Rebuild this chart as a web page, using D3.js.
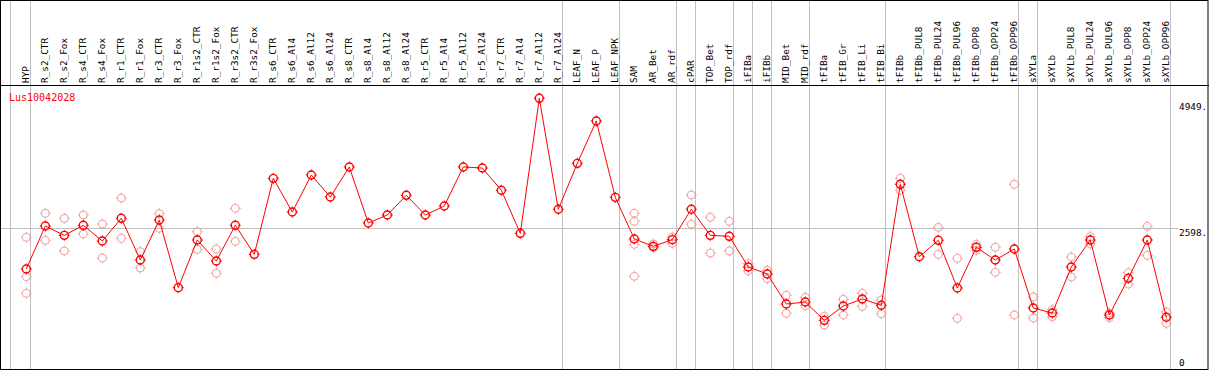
<!DOCTYPE html>
<html><head><meta charset="utf-8">
<script src="https://cdn.jsdelivr.net/npm/d3@7"></script>
<style>html,body{margin:0;padding:0;background:#fff;overflow:hidden}</style>
</head><body>
<svg id="chart" width="1209" height="370"></svg>
<script>
const geneId = "Lus10042028";
const categories = ["HYP","R_s2_CTR","R_s2_Fox","R_s4_CTR","R_s4_Fox","R_r1_CTR","R_r1_Fox","R_r3_CTR","R_r3_Fox","R_r1s2_CTR","R_r1s2_Fox","R_r3s2_CTR","R_r3s2_Fox","R_s6_CTR","R_s6_Al4","R_s6_Al12","R_s6_Al24","R_s8_CTR","R_s8_Al4","R_s8_Al12","R_s8_Al24","R_r5_CTR","R_r5_Al4","R_r5_Al12","R_r5_Al24","R_r7_CTR","R_r7_Al4","R_r7_Al12","R_r7_Al24","LEAF_N","LEAF_P","LEAF_NPK","SAM","AR_Bet","AR_rdf","cPAR","TOP_Bet","TOP_rdf","iFIBa","iFIBb","MID_Bet","MID_rdf","tFIBa","tFIB_Gr","tFIB_Li","tFIB_Bi","tFIBb","tFIBb_PUL8","tFIBb_PUL24","tFIBb_PUL96","tFIBb_OPP8","tFIBb_OPP24","tFIBb_OPP96","sXYLa","sXYLb","sXYLb_PUL8","sXYLb_PUL24","sXYLb_PUL96","sXYLb_OPP8","sXYLb_OPP24","sXYLb_OPP96"];
const meanValues = [1836,2641,2466,2654,2360,2785,2004,2753,1486,2379,1985,2654,2110,3534,2903,3596,3184,3747,2697,2847,3216,2847,3016,3747,3727,3310,2504,5033,2954,3815,4608,3178,2398,2260,2385,2954,2466,2448,1873,1742,1180,1217,874,1143,1274,1156,3422,2066,2373,1480,2242,2004,2210,1105,1011,1873,2379,974,1661,2379,931];
const replicateValues = [[2429,1691,1380],[2879,2373],[2785,2173],[2847,2491],[2679,2042],[3166,2410],[2160,1854],[2872,2598],[],[2535,2204],[2210,1755],[2972,2354],[],
[],[],[],[],[],[],[],[],[],[],[],[],[],[],[],[],[],[],[],
[2879,2729,2298,1699],[2304,2235],[2435,2317],[3222,2673],[2804,2135],[2729,2173],[1935,1804],[1811,1654],[1343,1006],[1305,1149],[949,787],[1268,974],[1380,1137],[1255,999],[3534,3310],[],[2616,2110],[2036,912],[2298,2185],[2242,1773],[3422,974],[1311,918],[1073,942],[2060,1686],[2441,2304],[1011,924],[1767,1555],[2635,2091],[1030,818]];
const groupStarts = ["HYP","R_s2_CTR","LEAF_N","SAM","cPAR","TOP_Bet","iFIBa","iFIBb","MID_Bet","tFIBa","tFIBb","sXYLa","sXYLb"];
const tickValues = [0, 2598, 4949];
const tickLabels = ["0", "2598.", "4949."];
const gridValues = [2598];

const W = 1209, H = 370;
const mono = "'DejaVu Sans Mono', monospace";
const svg = d3.select("#chart");
const x = d3.scaleBand().domain(categories).range([11.5, 1170.5]).padding(0);
const px = c => x(c) + 14.8;
const y = d3.scaleLinear().domain([0, 5196]).range([367, 89.6]);
const grey = "#c0c0c0";

// vertical group separators
svg.append("line").attr("x1", 10.5).attr("x2", 10.5).attr("y1", 0).attr("y2", H).attr("stroke", grey);
const seps = groupStarts.slice(1).map(g => x(g)).concat([x.range()[1]]);
svg.selectAll("line.sep").data(seps).enter().append("line").attr("class","sep")
  .attr("x1", d => d).attr("x2", d => d).attr("y1", 0).attr("y2", H).attr("stroke", grey);

// horizontal grid
svg.selectAll("line.grid").data(gridValues).enter().append("line").attr("class","grid")
  .attr("x1", 1).attr("x2", 1178).attr("y1", d => Math.round(y(d)) + 0.5).attr("y2", d => Math.round(y(d)) + 0.5)
  .attr("stroke", grey);

// header separator and frame
svg.append("line").attr("x1", 0).attr("x2", W).attr("y1", 85.5).attr("y2", 85.5).attr("stroke", "#000");
svg.append("rect").attr("x", 0.5).attr("y", 0.5).attr("width", W - 1.5).attr("height", 369)
  .attr("fill", "none").attr("stroke", "#000");

// category labels
svg.selectAll("text.cat").data(categories).enter().append("text").attr("class","cat")
  .attr("transform", d => `translate(${px(d) + 2.5},83) rotate(-90)`)
  .attr("font-family", mono).attr("font-size", "9.4px").attr("fill", "#000")
  .text(d => d);

// title
svg.append("text").attr("x", 9).attr("y", 100.5).attr("font-family", mono).attr("font-size", "10px")
  .attr("fill", "#ff0000").text(geneId);

// tick labels
svg.selectAll("text.tick").data(tickValues).enter().append("text").attr("class","tick")
  .attr("x", 1179).attr("y", d => Math.min(y(d) + 7.7, 366))
  .attr("font-family", mono).attr("font-size", "9.4px").attr("fill", "#000")
  .text((d, i) => tickLabels[i]);

function marker(sel, color, sw) {
  const r = 4;
  sel.append("circle").attr("r", r).attr("fill", "none").attr("stroke", color).attr("stroke-width", sw);
  [[0,-1],[0,1],[-1,0],[1,0]].forEach(([dx, dy]) => {
    sel.append("line").attr("x1", dx * (r - 0.5)).attr("y1", dy * (r - 0.5))
      .attr("x2", dx * (r + 1.5)).attr("y2", dy * (r + 1.5))
      .attr("stroke", color).attr("stroke-width", 1);
  });
}

// replicates
const reps = [];
categories.forEach((c, i) => replicateValues[i].forEach(v => reps.push({c, v})));
svg.selectAll("g.rep").data(reps).enter().append("g").attr("class","rep")
  .attr("transform", d => `translate(${px(d.c)},${y(d.v)})`)
  .each(function() { marker(d3.select(this), "#f0a0a0", 1); });

// mean line
const line = d3.line().x((d, i) => px(categories[i])).y(d => y(d));
svg.append("path").datum(meanValues).attr("d", line).attr("fill", "none").attr("stroke", "#ff0000").attr("stroke-width", 1);

// mean markers
svg.selectAll("g.mean").data(meanValues).enter().append("g").attr("class","mean")
  .attr("transform", (d, i) => `translate(${px(categories[i])},${y(d)})`)
  .each(function() { marker(d3.select(this), "#ff0000", 1.4); });
</script>
</body></html>
